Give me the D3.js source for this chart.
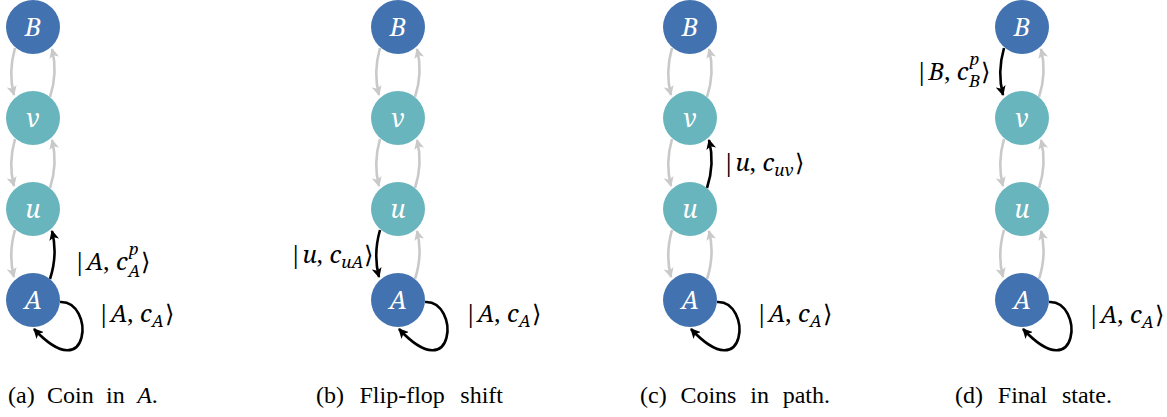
<!DOCTYPE html>
<html><head><meta charset="utf-8">
<script src="https://cdn.jsdelivr.net/npm/d3@7"></script>
</head><body>
<script>
// ---- data ----
const nodes = ["B", "v", "u", "A"];
const nodeKind = ["end", "mid", "mid", "end"];
const panels = ["a", "b", "c", "d"];
const captions = ["(a) Coin in |A|.", "(b) Flip-flop shift", "(c) Coins in path.", "(d) Final state."];
// highlighted edge per panel: from -> to
const highlightFrom = ["A", "u", "u", "B"];
const highlightTo = ["u", "A", "v", "v"];
// highlighted edge label: ket node, coin subscript, superscript
const hlKet = ["A", "u", "u", "B"];
const hlSub = ["A", "uA", "uv", "B"];
const hlSup = ["p", "", "", "p"];
const selfLoop = [true, true, true, true];
const selfKet = "A", selfSub = "A";

// ---- layout ----
const W = 1167, H = 417;
d3.select("body").style("margin", "0px");
const svg = d3.select("body").append("svg").attr("width", W).attr("height", H);
const x = d3.scaleOrdinal().domain(panels).range([33, 398, 690, 1022]);
const y = d3.scalePoint().domain(nodes).range([27, 300]);
const R = 27;
const colors = {end: "#4372b0", mid: "#69b5be"};
const gray = "#c9c9c9", black = "#000";
const MATH = "'Noto Serif'";
const CAP = "'Liberation Serif'";

const labelPos = {
  a: {hl: [73, 270], self: [97, 322]},
  b: {hl: [289, 263], self: [464, 322]},
  c: {hl: [722, 171], self: [755, 322]},
  d: {hl: [915, 80], self: [1087, 323]}
};
const capX = [8, 316, 640, 955];
const capWS = [6.4, 9.5, 7.8, 8.8];

const defs = svg.append("defs");
function marker(id, col) {
  defs.append("marker").attr("id", id).attr("viewBox", "0 0 10 10")
    .attr("refX", 9).attr("refY", 5).attr("markerWidth", 10).attr("markerHeight", 10)
    .attr("markerUnits", "userSpaceOnUse").attr("orient", "auto")
    .append("path").attr("d", "M0,0 L10,5 L0,10 L2.5,5 Z").attr("fill", col);
}
marker("ag", gray); marker("ab", black);

function leftArc(cx, yTop, yBot) {
  const p0 = [cx - 18, yTop + 21], p1 = [cx - 19, yBot - 23], c = [cx - 25, (yTop + yBot) / 2];
  return `M${p0}Q${c} ${p1}`;
}
function rightArc(cx, yTop, yBot) {
  const p0 = [cx + 17, yBot - 21], p1 = [cx + 19, yTop + 22], c = [cx + 25, (yTop + yBot) / 2];
  return `M${p0}Q${c} ${p1}`;
}
function ket(px, py, name, sub, sup, size) {
  const t = svg.append("text").attr("x", px).attr("y", py)
    .style("font-family", MATH).style("font-size", size + "px");
  const s = Math.round(size * 0.72);
  t.append("tspan").text("|");
  t.append("tspan").style("font-style", "italic").text(name);
  t.append("tspan").text(",");
  t.append("tspan").attr("dx", size * 0.28).style("font-style", "italic").text("c");
  if (sup) {
    t.append("tspan").attr("dy", -size * 0.63).attr("dx", 1).style("font-style", "italic")
      .style("font-size", s + "px").text(sup);
    t.append("tspan").attr("dy", size * 0.93).attr("dx", -s * 0.55 - 1).style("font-style", "italic")
      .style("font-size", s + "px").text(sub);
    t.append("tspan").attr("dy", -size * 0.3).attr("dx", 1).text("\u27E9");
  } else {
    t.append("tspan").attr("dy", size * 0.22).style("font-style", "italic")
      .style("font-size", s + "px").text(sub);
    t.append("tspan").attr("dy", -size * 0.22).attr("dx", 1).text("\u27E9");
  }
}

panels.forEach((p, pi) => {
  const g = svg.append("g");
  const cx = x(p);
  for (let i = 0; i < nodes.length - 1; i++) {
    const up = nodes[i], lo = nodes[i + 1];
    const yT = y(up), yB = y(lo);
    const hlLeft = highlightFrom[pi] === up && highlightTo[pi] === lo;
    const hlRight = highlightFrom[pi] === lo && highlightTo[pi] === up;
    g.append("path").attr("d", leftArc(cx, yT, yB)).attr("fill", "none")
      .attr("stroke", hlLeft ? black : gray).attr("stroke-width", 2.6)
      .attr("marker-end", hlLeft ? "url(#ab)" : "url(#ag)");
    g.append("path").attr("d", rightArc(cx, yT, yB)).attr("fill", "none")
      .attr("stroke", hlRight ? black : gray).attr("stroke-width", 2.6)
      .attr("marker-end", hlRight ? "url(#ab)" : "url(#ag)");
  }
  if (selfLoop[pi]) {
    const cy = y("A");
    g.append("path")
      .attr("d", `M${cx + 27},${cy + 2} C${cx + 62},${cy} ${cx + 58},${cy + 90} ${cx + 1},${cy + 29}`)
      .attr("fill", "none").attr("stroke", black).attr("stroke-width", 2.6)
      .attr("marker-end", "url(#ab)");
  }
  nodes.forEach((n, ni) => {
    g.append("circle").attr("cx", cx).attr("cy", y(n)).attr("r", R)
      .attr("fill", colors[nodeKind[ni]]);
  });
});

// texts appended directly to svg
panels.forEach((p, pi) => {
  const cx = x(p);
  nodes.forEach((n) => {
    svg.append("text").attr("x", cx).attr("y", y(n) + 9).attr("text-anchor", "middle")
      .style("font-family", MATH).style("font-style", "italic")
      .style("font-size", "25px").style("fill", "#fff").text(n);
  });
  const lp = labelPos[p];
  ket(lp.hl[0], lp.hl[1], hlKet[pi], hlSub[pi], hlSup[pi], 24);
  if (selfLoop[pi]) ket(lp.self[0], lp.self[1], selfKet, selfSub, "", 24);
  const ct = svg.append("text").attr("x", capX[pi]).attr("y", 403)
    .style("font-family", CAP).style("font-size", "24px")
    .style("word-spacing", capWS[pi] + "px");
  captions[pi].split("|").forEach((s, k) => {
    ct.append("tspan").style("font-style", k === 1 ? "italic" : "normal").text(s);
  });
});
</script>
</body></html>
